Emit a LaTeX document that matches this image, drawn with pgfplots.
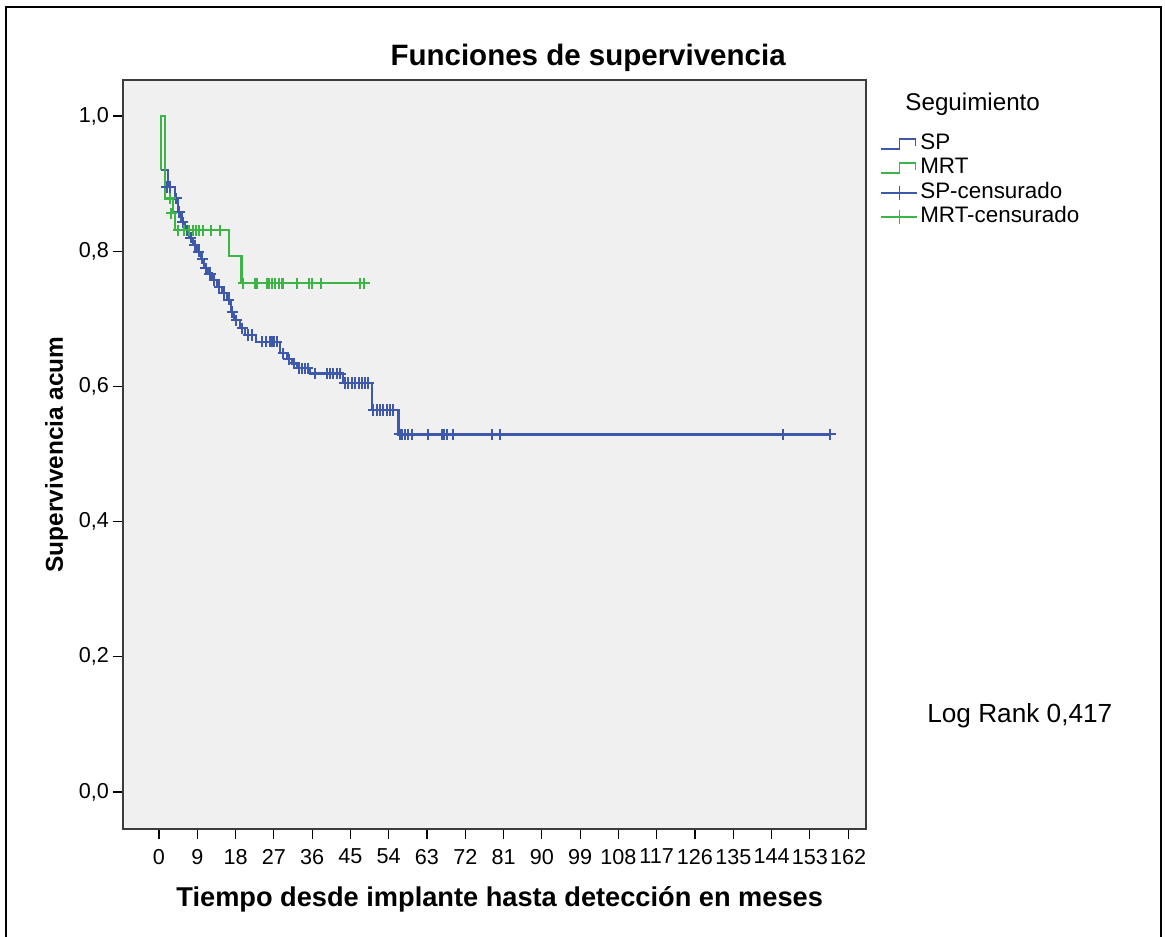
\documentclass[border=0pt]{standalone}
\usepackage{pgfplots}
\pgfplotsset{compat=1.18}
\usepackage{fontspec}
\setmainfont{Liberation Sans}
\definecolor{spblue}{RGB}{62,88,172}
\definecolor{mrtgreen}{RGB}{60,180,70}
\definecolor{plotbg}{RGB}{240,240,240}
\definecolor{framegray}{RGB}{60,60,60}
\begin{document}
\begin{tikzpicture}
\useasboundingbox (-61.5pt,-53.5pt) rectangle (521pt,414.5pt);
\draw[black,line width=0.8pt] (-58.5pt,-54pt) -- (-58.5pt,411pt) -- (519pt,411pt) -- (519pt,-54pt);
\begin{axis}[
  width=371.5pt, height=374.5pt, scale only axis,
  xmin=-8.46, xmax=166.2, ymin=-0.0547, ymax=1.0533,
  axis background/.style={fill=plotbg},
  axis line style={framegray, line width=0.8pt},
  xtick={0,9,...,162}, ytick={0,0.2,0.4,0.6,0.8,1.0},
  tick align=outside, tickpos=left, major tick length=5pt,
  tick style={black, line width=0.6pt},
  /pgf/number format/assume math mode=true,
  yticklabel style={xshift=1.5pt, /pgf/number format/.cd, use comma, fixed, fixed zerofill, precision=1},
  xticklabel style={yshift=-1.5pt},
  ticklabel style={font=\fontsize{10.8}{12}\selectfont},
  title={Funciones de supervivencia},
  title style={at={(axis description cs:0.626,1.013)}, anchor=center, font=\fontsize{14.75}{16}\selectfont\bfseries},
  xlabel={Tiempo desde implante hasta detección en meses},
  xlabel style={at={(axis description cs:0.507,-0.094)}, anchor=center, font=\fontsize{13.6}{15}\selectfont\bfseries},
  ylabel={Supervivencia acum},
  ylabel style={at={(axis description cs:-0.0895,0.5)}, anchor=center, font=\fontsize{12.2}{14}\selectfont\bfseries},
  legend style={draw=none, fill=none, at={(axis description cs:1.019,0.929)}, anchor=north west,
    font=\fontsize{11.2}{12}\selectfont, row sep=1.65pt, inner sep=0pt,
    nodes={inner ysep=0pt, inner xsep=1pt, text height=8pt, text depth=2.5pt}},
  legend cell align=left,
  clip=false,
]
\addplot[const plot, draw=spblue, color=spblue, line width=1.1pt,
  legend image code/.code={\draw[draw=spblue,line width=0.9pt] (0pt,-2.5pt)--(9pt,-2.5pt)--(9pt,2.5pt)--(17pt,2.5pt)--(17pt,-1pt);}]
coordinates {(0.4,0.920) (2.2,0.895) (3.8,0.878) (4.4,0.858) (5.3,0.843) (6.2,0.831) (7.0,0.820) (8.0,0.809) (8.9,0.799) (9.9,0.789) (10.6,0.775) (11.5,0.767) (12.5,0.757) (13.6,0.747) (14.8,0.738) (16.0,0.728) (16.9,0.710) (17.6,0.698) (19.0,0.686) (20.2,0.676) (22.8,0.666) (28.5,0.649) (30.0,0.640) (31.3,0.634) (32.5,0.627) (35.5,0.619) (43.2,0.605) (50.0,0.565) (56.3,0.529) (157.8,0.529)};
\addlegendentry{SP}
\addplot[const plot, draw=mrtgreen, color=mrtgreen, line width=1.1pt,
  legend image code/.code={\draw[draw=mrtgreen,line width=0.9pt] (0pt,-2.5pt)--(9pt,-2.5pt)--(9pt,2.5pt)--(17pt,2.5pt)--(17pt,-1pt);}]
coordinates {(0.4,0.92) (0.4,1.0) (1.4,0.878) (3.2,0.856) (3.8,0.831) (16.5,0.793) (19.4,0.7525) (48.5,0.7525)};
\addlegendentry{MRT}
\addplot[only marks, mark=+, mark size=2.8pt, color=spblue, mark options={draw=spblue, line width=1pt},
  legend image code/.code={\draw[draw=spblue,line width=0.9pt] (0pt,0pt)--(18pt,0pt); \draw[draw=spblue,line width=0.9pt] (9pt,-3.5pt)--(9pt,3.5pt);}]
coordinates {(1.8,0.895) (2.6,0.895) (4.0,0.878) (4.8,0.858) (5.6,0.843) (6.6,0.831) (7.5,0.820) (8.4,0.809) (9.3,0.799) (10.2,0.789) (11.0,0.775) (12.0,0.767) (13.0,0.757) (14.2,0.747) (15.3,0.738) (16.4,0.728) (17.2,0.710) (18.2,0.698) (19.6,0.686) (21.0,0.676) (21.8,0.676)
 (24.2,0.666) (25.2,0.666) (26.0,0.666) (26.6,0.666) (27.0,0.666) (27.7,0.666) (29.2,0.649) (30.5,0.640) (31.8,0.634)
 (32.9,0.627) (33.6,0.627) (34.3,0.627) (35.0,0.627)
 (36.7,0.619) (39.4,0.619) (40.2,0.619) (41.0,0.619) (41.8,0.619) (42.6,0.619)
 (43.7,0.605) (44.5,0.605) (45.3,0.605) (46.1,0.605) (46.9,0.605) (47.7,0.605) (48.4,0.605) (49.2,0.605)
 (50.4,0.565) (51.2,0.565) (52.0,0.565) (52.7,0.565) (53.5,0.565) (54.3,0.565) (55.1,0.565)
 (56.6,0.529) (57.1,0.529) (57.8,0.529) (58.6,0.529) (59.4,0.529) (63.3,0.529) (66.5,0.529) (67.0,0.529) (67.6,0.529) (69.2,0.529) (78.2,0.529) (80.2,0.529) (146.8,0.529) (157.8,0.529)};
\addlegendentry{SP-censurado}
\addplot[only marks, mark=+, mark size=2.8pt, color=mrtgreen, mark options={draw=mrtgreen, line width=1pt},
  legend image code/.code={\draw[draw=mrtgreen,line width=0.9pt] (0pt,0pt)--(18pt,0pt); \draw[draw=mrtgreen,line width=0.9pt] (9pt,-3.5pt)--(9pt,3.5pt);}]
coordinates {(2.6,0.878) (2.9,0.856) (4.5,0.831) (5.9,0.831) (7.1,0.831) (8.1,0.831) (8.6,0.831) (9.3,0.831) (10.4,0.831) (12.3,0.831) (14.3,0.831)
 (19.8,0.7525) (22.6,0.7525) (23.1,0.7525) (25.3,0.7525) (25.9,0.7525) (26.5,0.7525) (27.3,0.7525) (28.3,0.7525) (28.8,0.7525) (29.2,0.7525) (32.4,0.7525) (35.3,0.7525) (35.9,0.7525) (38.2,0.7525) (47.2,0.7525) (48.2,0.7525)};
\addlegendentry{MRT-censurado}
\node[anchor=west, inner sep=0pt, font=\fontsize{12.1}{13}\selectfont] at (axis description cs:1.0525,0.968) {Seguimiento};
\node[anchor=west, inner sep=0pt, font=\fontsize{13.1}{14}\selectfont] at (axis description cs:1.082,0.151) {Log Rank 0,417};
\end{axis}
\end{tikzpicture}
\end{document}
